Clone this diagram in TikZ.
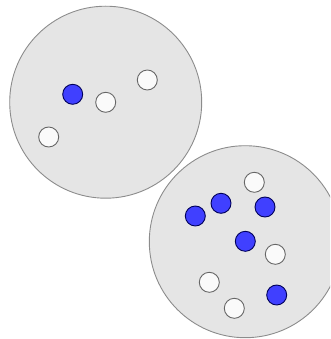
\documentclass[tikz,border=0pt]{standalone}
\begin{document}
\begin{tikzpicture}[x=1pt,y=-1pt,
  big/.style={draw=black!45,fill=black!10,line width=0.9pt},
  wdot/.style={circle,draw=black!60,fill=black!2,line width=0.9pt,minimum size=20pt,inner sep=0pt},
  bdot/.style={circle,draw=blue!35!black,fill={rgb,255:red,64;green,64;blue,255},line width=0.9pt,minimum size=20pt,inner sep=0pt}]
\useasboundingbox (0,0) rectangle (330,339);
\clip (0,0) rectangle (330,339);
\node[big,circle,minimum size=192pt,inner sep=0pt] (A) at (105.7,102.2) {};
\node[big,circle,minimum size=192pt,inner sep=0pt] (B) at (245.3,241.7) {};
% dots in A
\node[bdot] (a1) at (72.7,94.3) {};
\node[wdot] (a2) at (105.7,102.3) {};
\node[wdot] (a3) at (147.3,80) {};
\node[wdot] (a4) at (48.7,137) {};
% dots in B
\node[wdot] (b1) at (254.3,182.3) {};
\node[bdot] (b2) at (221,203.3) {};
\node[bdot] (b3) at (195.3,216) {};
\node[bdot] (b4) at (265,207) {};
\node[bdot] (b5) at (245.3,241.3) {};
\node[wdot] (b6) at (275.3,254.3) {};
\node[wdot] (b7) at (209.3,282.3) {};
\node[bdot] (b8) at (276.7,295) {};
\node[wdot] (b9) at (234.3,308.3) {};
\end{tikzpicture}
\end{document}
